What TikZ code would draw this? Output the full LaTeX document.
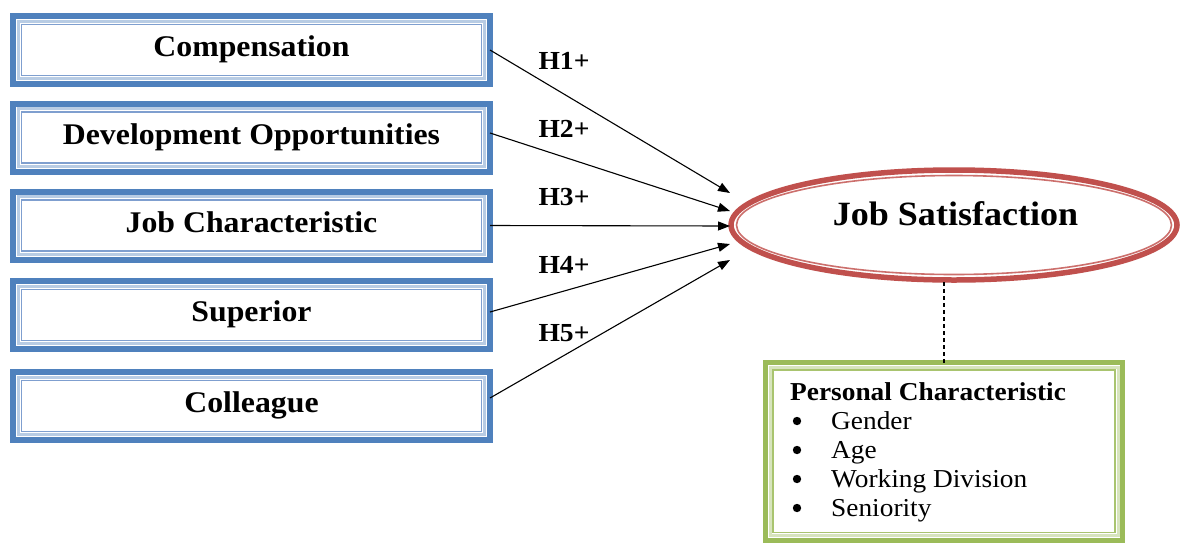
\documentclass[tikz,border=0pt]{standalone}
\usepackage{fontspec}
\setmainfont{Liberation Serif}[FakeStretch=1.06]
\usetikzlibrary{arrows.meta,shapes.geometric}
\definecolor{bOut}{HTML}{4F81BD}
\definecolor{bBand}{HTML}{B8CCE4}
\definecolor{bThin}{HTML}{7F9FCF}
\definecolor{rOut}{HTML}{C0504D}
\definecolor{rThin}{HTML}{CC6F6C}
\definecolor{gOut}{HTML}{9BBB59}
\definecolor{gBand}{HTML}{D7E4BD}
\definecolor{gThin}{HTML}{A9C46F}
\newcommand\pcindent{\hspace*{41pt}}
\begin{document}
\begin{tikzpicture}[x=1pt,y=-1pt,
  factor/.style={draw=bOut, line width=6pt, minimum width=477pt, minimum height=68pt,
    inner sep=0pt, outer sep=0pt, font=\fontsize{30}{32}\selectfont\bfseries,
    text height=21pt, text depth=7.6pt},
  bband/.style={draw=bBand, line width=3.3pt},
  bthin/.style={draw=bThin, line width=1.5pt},
  hyp/.style={font=\fontsize{26}{28}\selectfont\bfseries, anchor=base, inner sep=0pt},
  link/.style={line width=1.1pt, -{Triangle[length=12pt,width=9pt]}},
  goal/.style={draw=rOut, line width=5.5pt, ellipse, minimum width=446pt,
    minimum height=110pt, inner sep=0pt, outer sep=0pt},
  pbox/.style={draw=gOut, line width=5pt, minimum width=357pt, minimum height=177.5pt,
    inner sep=0pt, outer sep=0pt},
  gband/.style={draw=gBand, line width=3pt},
  gthin/.style={draw=gThin, line width=1.2pt},
  dashlink/.style={line width=1.8pt, dash pattern=on 4pt off 3pt},
  bulletdot/.style={fill=black}
]
\useasboundingbox (0,0) rectangle (1181,542);
\fill[white] (0,0) rectangle (1181,542);

% factor boxes
\node[factor] (c1) at (251.5,50)    {Compensation};
\node[factor] (c2) at (251.5,137.5) {Development Opportunities};
\node[factor] (c3) at (251.5,225.5) {Job Characteristic};
\node[factor] (c4) at (251.5,315)   {Superior};
\node[factor] (c5) at (251.5,406)   {Colleague};
\foreach \n in {c1,c2,c3,c4,c5}{
  \draw[bband] ([shift={(5.3,5.3)}]\n.north west) rectangle ([shift={(-5.3,-5.3)}]\n.south east);
  \draw[bthin] ([shift={(8.3,8.3)}]\n.north west) rectangle ([shift={(-8.3,-8.3)}]\n.south east);
}

% job satisfaction
\node[goal] (js) at (954,225) {};
\draw[draw=rThin, line width=1.6pt] (js.center) ellipse [x radius=217.5pt, y radius=49.5pt];
\node[font=\fontsize{34}{36}\selectfont\bfseries, anchor=base, inner sep=0pt] (jst) at (955.5,225) {Job Satisfaction};

% arrow tips
\coordinate (t1) at (730,193);
\coordinate (t2) at (730,211);
\coordinate (t3) at (730,226);
\coordinate (t4) at (730,244);
\coordinate (t5) at (730,260);

\draw[link] (c1.east) -- (t1);
\draw[link] ([yshift=4.5pt]c2.east) -- (t2);
\draw[link] (c3.east) -- (t3);
\draw[link] ([yshift=3pt]c4.east) -- (t4);
\draw[link] ([yshift=8pt]c5.east) -- (t5);

\node[hyp] (h1) at (564,69)  {H1+};
\node[hyp] (h2) at (564,137) {H2+};
\node[hyp] (h3) at (564,205) {H3+};
\node[hyp] (h4) at (564,273) {H4+};
\node[hyp] (h5) at (564,341) {H5+};

% personal characteristic box
\node[pbox] (pc) at (944,451.25) {};
\draw[gband] ([shift={(4.5,4.5)}]pc.north west) rectangle ([shift={(-4.5,-4.5)}]pc.south east);
\draw[gthin] ([shift={(7.5,7.5)}]pc.north west) rectangle ([shift={(-7.5,-7.5)}]pc.south east);
\node[anchor=base west, inner sep=0pt, font=\fontsize{25.8}{29}\selectfont] (pct) at (790,400)
  {\begin{tabular}[t]{@{}l@{}}
   \textbf{Personal Characteristic}\\
   \pcindent Gender\\
   \pcindent Age\\
   \pcindent Working Division\\
   \pcindent Seniority
   \end{tabular}};
\foreach \yy in {421,450,479,508}{
  \fill[bulletdot] (797,\yy) circle [radius=4.2pt];
}

\draw[dashlink] (pc.north) -- (pc.north |- js.south);
\end{tikzpicture}
\end{document}
